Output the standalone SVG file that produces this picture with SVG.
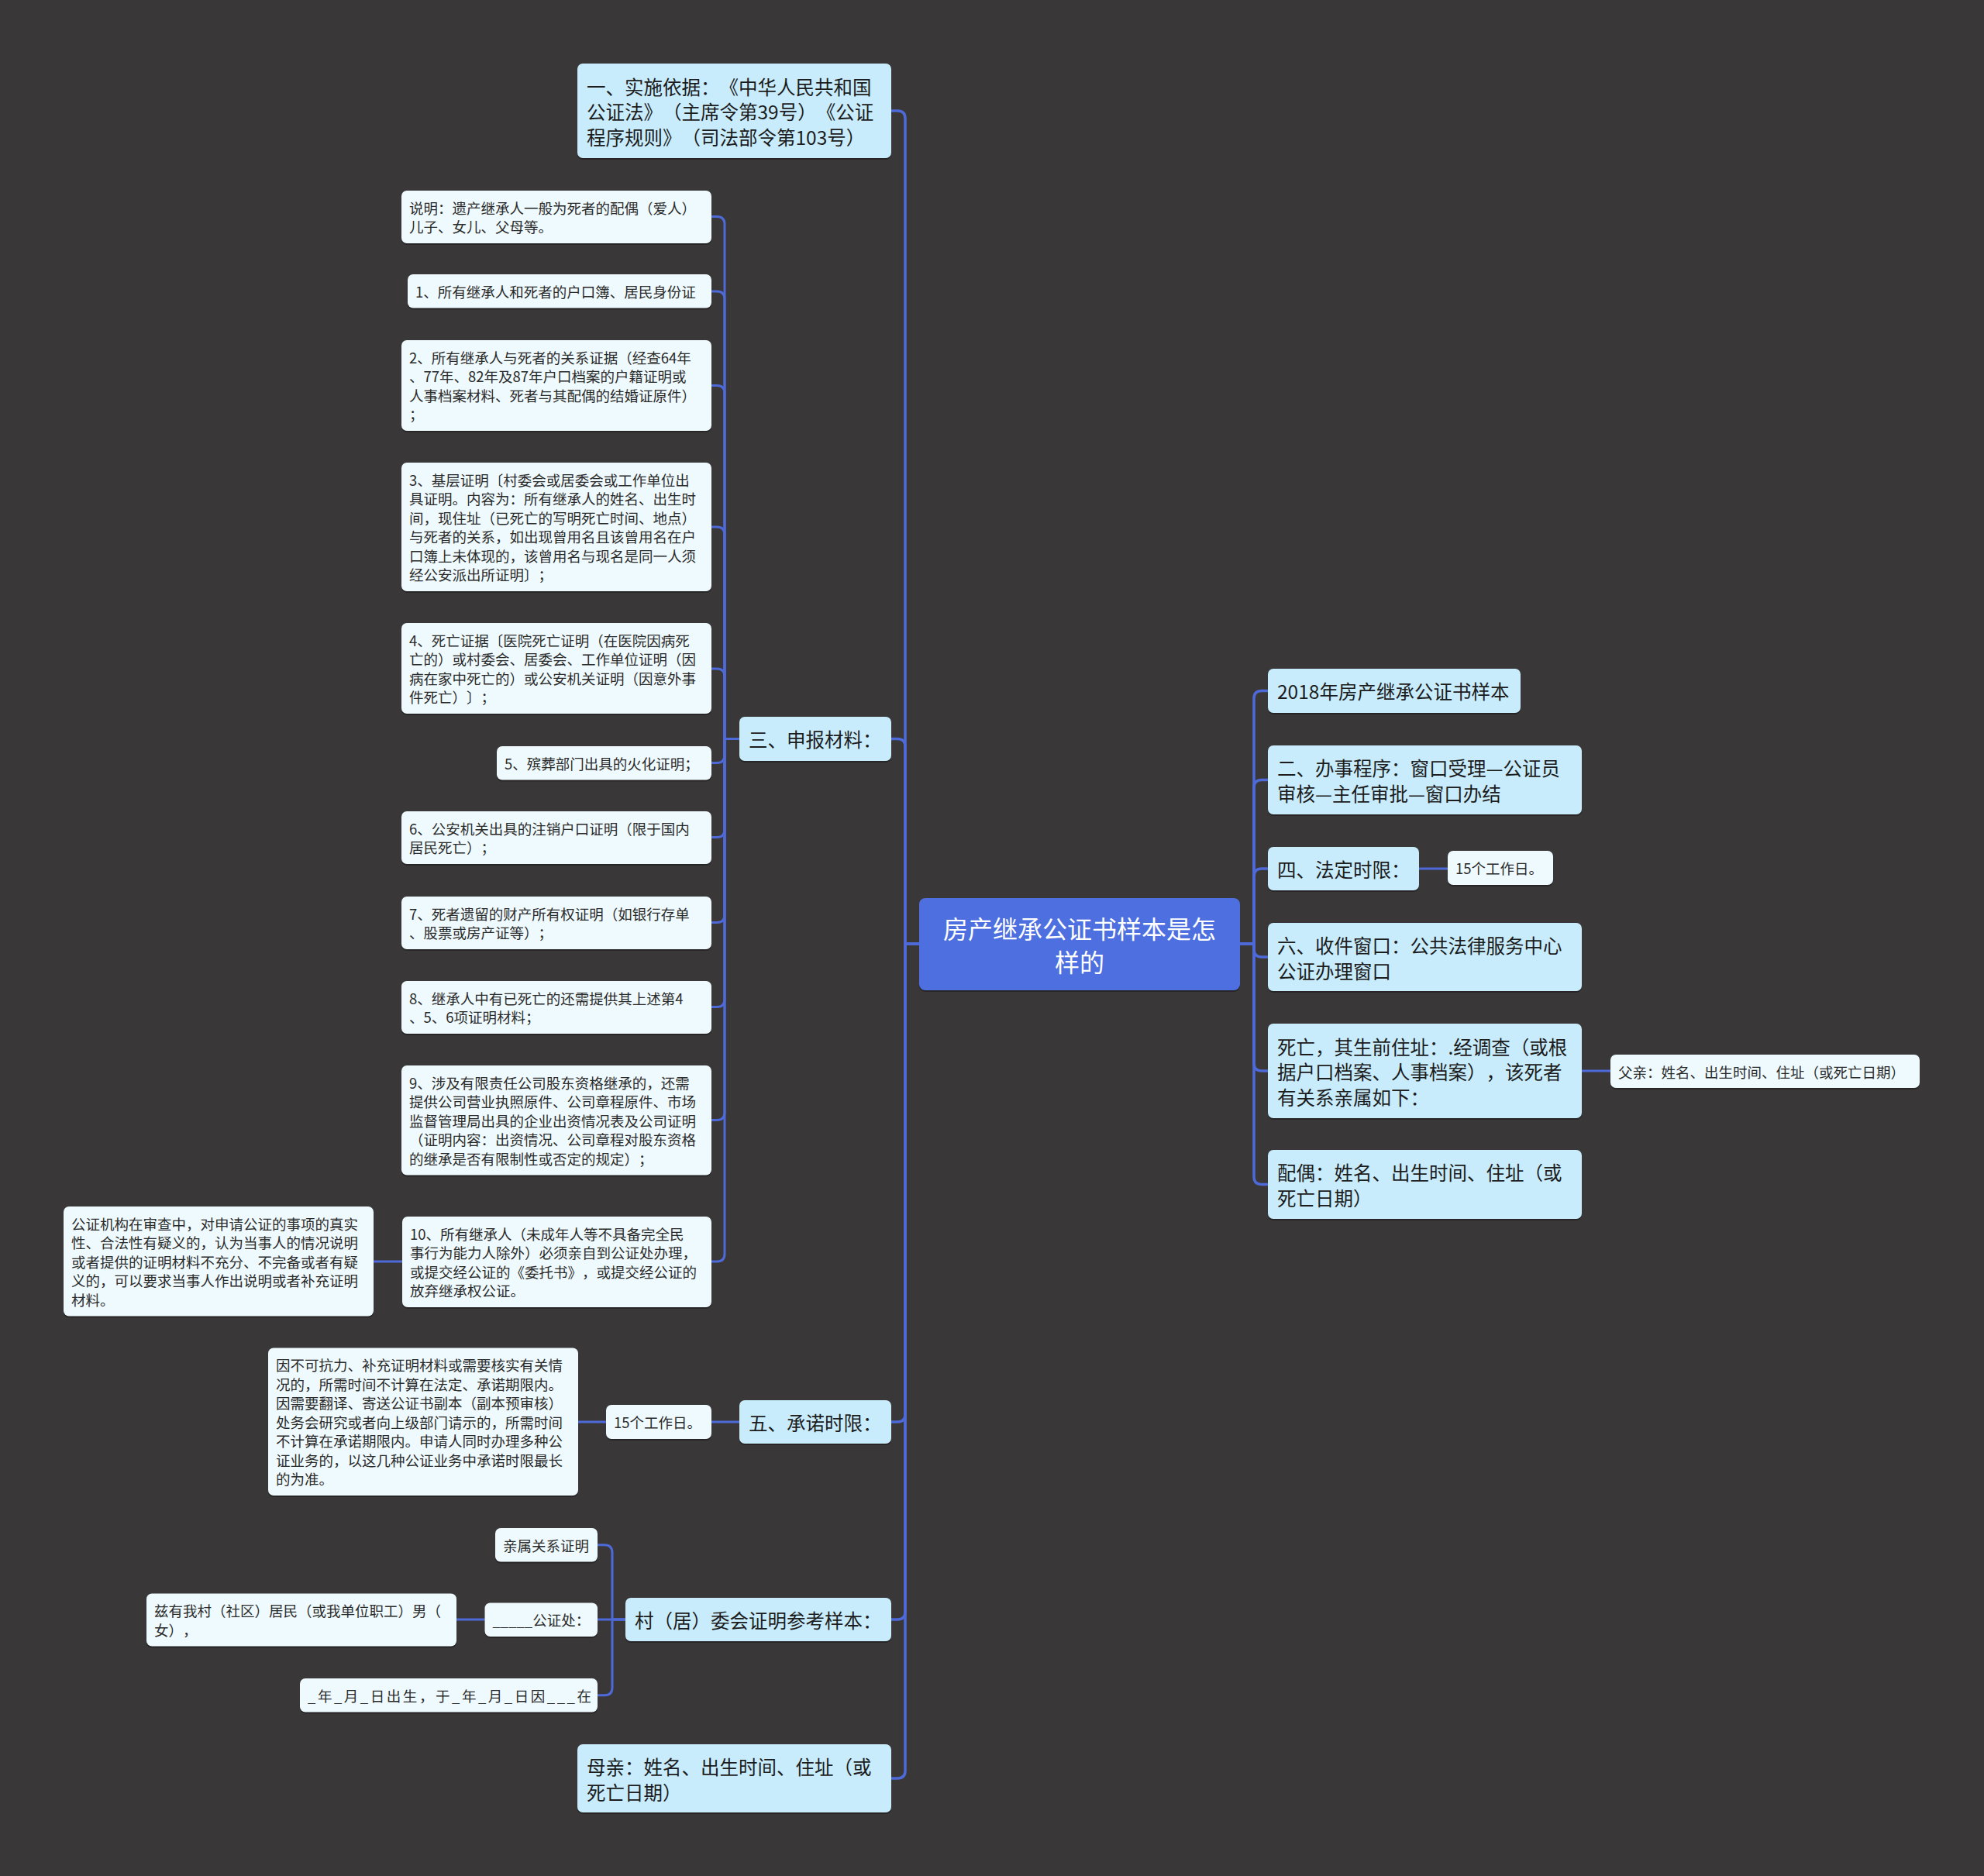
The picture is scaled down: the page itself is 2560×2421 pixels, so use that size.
<svg xmlns="http://www.w3.org/2000/svg" width="2560" height="2421" viewBox="0 0 2560 2421">
<style>
text, tspan { font-family: "Noto Sans CJK SC", "Noto Sans", sans-serif; dominant-baseline: central; text-spacing-trim: space-all; }
.bg { fill: #393738; }
.sh { fill: #1f1e1f; opacity: 0.7; }
.root { fill: #4d6fe0; }
.l1 { fill: #c8ecfc; }
.l2 { fill: #effafe; }
.tr { font-size: 32px; fill: #ffffff; text-anchor: middle; }
.t1 { font-size: 24.5px; fill: #1c1c1c; }
.t2 { font-size: 18.5px; fill: #2a2a2a; }
.edge { fill: none; stroke: #4e69d8; stroke-width: 3; stroke-linecap: round; stroke-linejoin: round; }
.edge.main { stroke-width: 3.5; }
</style>
<rect class="bg" x="0" y="0" width="2560" height="2421"/>

<g id="connectors">
  <path class="edge main" d="M1186 1218 H1168 V153 Q1168 143 1158 143 H1150"/>
  <path class="edge main" d="M1186 1218 H1168 V963.5 Q1168 953.5 1158 953.5 H1150"/>
  <path class="edge main" d="M1186 1218 H1168 V1825 Q1168 1835 1158 1835 H1150"/>
  <path class="edge main" d="M1186 1218 H1168 V2080 Q1168 2090 1158 2090 H1150"/>
  <path class="edge main" d="M1186 1218 H1168 V2285 Q1168 2295 1158 2295 H1150"/>
  <path class="edge main" d="M1600 1218 H1618 V901.5 Q1618 891.5 1628 891.5 H1636"/>
  <path class="edge main" d="M1600 1218 H1618 V1016.5 Q1618 1006.5 1628 1006.5 H1636"/>
  <path class="edge main" d="M1600 1218 H1618 V1131 Q1618 1121 1628 1121 H1636"/>
  <path class="edge main" d="M1600 1218 H1618 V1225 Q1618 1235 1628 1235 H1636"/>
  <path class="edge main" d="M1600 1218 H1618 V1372 Q1618 1382 1628 1382 H1636"/>
  <path class="edge main" d="M1600 1218 H1618 V1518.5 Q1618 1528.5 1628 1528.5 H1636"/>
  <path class="edge" d="M954 953.5 H935 V289.5 Q935 279.5 925 279.5 H918"/>
  <path class="edge" d="M954 953.5 H935 V386 Q935 376 925 376 H918"/>
  <path class="edge" d="M954 953.5 H935 V507.5 Q935 497.5 925 497.5 H918"/>
  <path class="edge" d="M954 953.5 H935 V690 Q935 680 925 680 H918"/>
  <path class="edge" d="M954 953.5 H935 V873 Q935 863 925 863 H918"/>
  <path class="edge" d="M954 953.5 H935 V974.5 Q935 984.5 925 984.5 H918"/>
  <path class="edge" d="M954 953.5 H935 V1070.5 Q935 1080.5 925 1080.5 H918"/>
  <path class="edge" d="M954 953.5 H935 V1180.5 Q935 1190.5 925 1190.5 H918"/>
  <path class="edge" d="M954 953.5 H935 V1289.5 Q935 1299.5 925 1299.5 H918"/>
  <path class="edge" d="M954 953.5 H935 V1435.5 Q935 1445.5 925 1445.5 H918"/>
  <path class="edge" d="M954 953.5 H935 V1618 Q935 1628 925 1628 H918"/>
  <path class="edge" d="M519 1628 H482"/>
  <path class="edge" d="M954 1835 H918"/>
  <path class="edge" d="M782 1835 H746"/>
  <path class="edge" d="M807 2090 H790 V2003.7 Q790 1993.7 780 1993.7 H771"/>
  <path class="edge" d="M807 2090 H771"/>
  <path class="edge" d="M807 2090 H790 V2177.7 Q790 2187.7 780 2187.7 H771"/>
  <path class="edge" d="M625.5 2090 H589"/>
  <path class="edge" d="M1831 1121 H1868"/>
  <path class="edge" d="M2041 1382 H2078"/>
</g>

<g id="root">
  <rect class="sh" x="1186" y="1161" width="414" height="119" rx="8"/>
  <rect class="root" x="1186" y="1159" width="414" height="119" rx="8"/>
  <text class="tr"><tspan x="1393" y="1197">房产继承公证书样本是怎</tspan><tspan x="1393" y="1240">样的</tspan></text>
</g>

<g id="n-yi">
  <rect class="sh" x="745" y="84" width="405" height="122" rx="7"/>
  <rect class="l1" x="745" y="82" width="405" height="122" rx="7"/>
  <text class="t1"><tspan x="757" y="110.5">一、实施依据：《中华人民共和国</tspan><tspan x="757" y="143">公证法》（主席令第39号）《公证</tspan><tspan x="757" y="175.5">程序规则》（司法部令第103号）</tspan></text>
</g>

<g id="n-san">
  <rect class="sh" x="954" y="927" width="196" height="57" rx="7"/>
  <rect class="l1" x="954" y="925" width="196" height="57" rx="7"/>
  <text class="t1" x="966" y="953.5">三、申报材料：</text>
</g>

<g id="n-wu">
  <rect class="sh" x="954" y="1809" width="196" height="56" rx="7"/>
  <rect class="l1" x="954" y="1807" width="196" height="56" rx="7"/>
  <text class="t1" x="966" y="1835">五、承诺时限：</text>
</g>

<g id="n-cun">
  <rect class="sh" x="807" y="2064" width="343" height="56" rx="7"/>
  <rect class="l1" x="807" y="2062" width="343" height="56" rx="7"/>
  <text class="t1" x="819" y="2090">村（居）委会证明参考样本：</text>
</g>

<g id="n-muqin">
  <rect class="sh" x="745" y="2253" width="405" height="88" rx="7"/>
  <rect class="l1" x="745" y="2251" width="405" height="88" rx="7"/>
  <text class="t1"><tspan x="757" y="2279">母亲：姓名、出生时间、住址（或</tspan><tspan x="757" y="2311.5">死亡日期）</tspan></text>
</g>

<g id="n-2018">
  <rect class="sh" x="1636" y="865" width="326" height="57" rx="7"/>
  <rect class="l1" x="1636" y="863" width="326" height="57" rx="7"/>
  <text class="t1" x="1648" y="891.5">2018年房产继承公证书样本</text>
</g>

<g id="n-er">
  <rect class="sh" x="1636" y="964" width="405" height="89" rx="7"/>
  <rect class="l1" x="1636" y="962" width="405" height="89" rx="7"/>
  <text class="t1"><tspan x="1648" y="990.25">二、办事程序：窗口受理—公证员</tspan><tspan x="1648" y="1022.75">审核—主任审批—窗口办结</tspan></text>
</g>

<g id="n-si">
  <rect class="sh" x="1636" y="1095" width="195" height="56" rx="7"/>
  <rect class="l1" x="1636" y="1093" width="195" height="56" rx="7"/>
  <text class="t1" x="1648" y="1121">四、法定时限：</text>
</g>

<g id="n-si-15">
  <rect class="sh" x="1868" y="1100" width="136" height="44" rx="7"/>
  <rect class="l2" x="1868" y="1098" width="136" height="44" rx="7"/>
  <text class="t2" x="1878" y="1120">15个工作日。</text>
</g>

<g id="n-liu">
  <rect class="sh" x="1636" y="1193" width="405" height="88" rx="7"/>
  <rect class="l1" x="1636" y="1191" width="405" height="88" rx="7"/>
  <text class="t1"><tspan x="1648" y="1219">六、收件窗口：公共法律服务中心</tspan><tspan x="1648" y="1251.5">公证办理窗口</tspan></text>
</g>

<g id="n-siwang">
  <rect class="sh" x="1636" y="1323" width="405" height="122" rx="7"/>
  <rect class="l1" x="1636" y="1321" width="405" height="122" rx="7"/>
  <text class="t1"><tspan x="1648" y="1349.5">死亡，其生前住址：.经调查（或根</tspan><tspan x="1648" y="1382">据户口档案、人事档案），该死者</tspan><tspan x="1648" y="1414.5">有关系亲属如下：</tspan></text>
</g>

<g id="n-fuqin">
  <rect class="sh" x="2078" y="1363" width="399" height="43" rx="7"/>
  <rect class="l2" x="2078" y="1361" width="399" height="43" rx="7"/>
  <text class="t2" x="2088" y="1382.5">父亲：姓名、出生时间、住址（或死亡日期）</text>
</g>

<g id="n-peiou">
  <rect class="sh" x="1636" y="1486" width="405" height="89" rx="7"/>
  <rect class="l1" x="1636" y="1484" width="405" height="89" rx="7"/>
  <text class="t1"><tspan x="1648" y="1512.25">配偶：姓名、出生时间、住址（或</tspan><tspan x="1648" y="1544.75">死亡日期）</tspan></text>
</g>

<g id="s0">
  <rect class="sh" x="518" y="248" width="400" height="68" rx="7"/>
  <rect class="l2" x="518" y="246" width="400" height="68" rx="7"/>
  <text class="t2"><tspan x="528" y="267.75">说明：遗产继承人一般为死者的配偶（爱人）</tspan><tspan x="528" y="292.25">儿子、女儿、父母等。</tspan></text>
</g>

<g id="s1">
  <rect class="sh" x="526" y="356" width="392" height="43.5" rx="7"/>
  <rect class="l2" x="526" y="354" width="392" height="43.5" rx="7"/>
  <text class="t2" x="536" y="375.75">1、所有继承人和死者的户口簿、居民身份证</text>
</g>

<g id="s2">
  <rect class="sh" x="518" y="441" width="400" height="117" rx="7"/>
  <rect class="l2" x="518" y="439" width="400" height="117" rx="7"/>
  <text class="t2"><tspan x="528" y="460.75">2、所有继承人与死者的关系证据（经查64年</tspan><tspan x="528" y="485.25">、77年、82年及87年户口档案的户籍证明或</tspan><tspan x="528" y="509.75">人事档案材料、死者与其配偶的结婚证原件）</tspan><tspan x="528" y="534.25">；</tspan></text>
</g>

<g id="s3">
  <rect class="sh" x="518" y="599" width="400" height="166" rx="7"/>
  <rect class="l2" x="518" y="597" width="400" height="166" rx="7"/>
  <text class="t2"><tspan x="528" y="618.75">3、基层证明〔村委会或居委会或工作单位出</tspan><tspan x="528" y="643.25">具证明。内容为：所有继承人的姓名、出生时</tspan><tspan x="528" y="667.75">间，现住址（已死亡的写明死亡时间、地点）</tspan><tspan x="528" y="692.25">与死者的关系，如出现曾用名且该曾用名在户</tspan><tspan x="528" y="716.75">口簿上未体现的，该曾用名与现名是同一人须</tspan><tspan x="528" y="741.25">经公安派出所证明〕；</tspan></text>
</g>

<g id="s4">
  <rect class="sh" x="518" y="806" width="400" height="117" rx="7"/>
  <rect class="l2" x="518" y="804" width="400" height="117" rx="7"/>
  <text class="t2"><tspan x="528" y="825.75">4、死亡证据〔医院死亡证明（在医院因病死</tspan><tspan x="528" y="850.25">亡的）或村委会、居委会、工作单位证明（因</tspan><tspan x="528" y="874.75">病在家中死亡的）或公安机关证明（因意外事</tspan><tspan x="528" y="899.25">件死亡）〕；</tspan></text>
</g>

<g id="s5">
  <rect class="sh" x="641" y="965" width="277" height="43.5" rx="7"/>
  <rect class="l2" x="641" y="963" width="277" height="43.5" rx="7"/>
  <text class="t2" x="651" y="984.75">5、殡葬部门出具的火化证明；</text>
</g>

<g id="s6">
  <rect class="sh" x="518" y="1049" width="400" height="68" rx="7"/>
  <rect class="l2" x="518" y="1047" width="400" height="68" rx="7"/>
  <text class="t2"><tspan x="528" y="1068.75">6、公安机关出具的注销户口证明（限于国内</tspan><tspan x="528" y="1093.25">居民死亡）；</tspan></text>
</g>

<g id="s7">
  <rect class="sh" x="518" y="1159" width="400" height="68" rx="7"/>
  <rect class="l2" x="518" y="1157" width="400" height="68" rx="7"/>
  <text class="t2"><tspan x="528" y="1178.75">7、死者遗留的财产所有权证明（如银行存单</tspan><tspan x="528" y="1203.25">、股票或房产证等）；</tspan></text>
</g>

<g id="s8">
  <rect class="sh" x="518" y="1268" width="400" height="68" rx="7"/>
  <rect class="l2" x="518" y="1266" width="400" height="68" rx="7"/>
  <text class="t2"><tspan x="528" y="1287.75">8、继承人中有已死亡的还需提供其上述第4</tspan><tspan x="528" y="1312.25">、5、6项证明材料；</tspan></text>
</g>

<g id="s9">
  <rect class="sh" x="518" y="1377" width="400" height="141.5" rx="7"/>
  <rect class="l2" x="518" y="1375" width="400" height="141.5" rx="7"/>
  <text class="t2"><tspan x="528" y="1396.75">9、涉及有限责任公司股东资格继承的，还需</tspan><tspan x="528" y="1421.25">提供公司营业执照原件、公司章程原件、市场</tspan><tspan x="528" y="1445.75">监督管理局出具的企业出资情况表及公司证明</tspan><tspan x="528" y="1470.25">（证明内容：出资情况、公司章程对股东资格</tspan><tspan x="528" y="1494.75">的继承是否有限制性或否定的规定）；</tspan></text>
</g>

<g id="s10">
  <rect class="sh" x="519" y="1572" width="399" height="117" rx="7"/>
  <rect class="l2" x="519" y="1570" width="399" height="117" rx="7"/>
  <text class="t2"><tspan x="529" y="1591.75">10、所有继承人（未成年人等不具备完全民</tspan><tspan x="529" y="1616.25">事行为能力人除外）必须亲自到公证处办理，</tspan><tspan x="529" y="1640.75">或提交经公证的《委托书》，或提交经公证的</tspan><tspan x="529" y="1665.25">放弃继承权公证。</tspan></text>
</g>

<g id="s10-note">
  <rect class="sh" x="82" y="1559" width="400" height="141.5" rx="7"/>
  <rect class="l2" x="82" y="1557" width="400" height="141.5" rx="7"/>
  <text class="t2"><tspan x="92" y="1578.75">公证机构在审查中，对申请公证的事项的真实</tspan><tspan x="92" y="1603.25">性、合法性有疑义的，认为当事人的情况说明</tspan><tspan x="92" y="1627.75">或者提供的证明材料不充分、不完备或者有疑</tspan><tspan x="92" y="1652.25">义的，可以要求当事人作出说明或者补充证明</tspan><tspan x="92" y="1676.75">材料。</tspan></text>
</g>

<g id="n-wu-15">
  <rect class="sh" x="782" y="1815" width="136" height="44" rx="7"/>
  <rect class="l2" x="782" y="1813" width="136" height="44" rx="7"/>
  <text class="t2" x="792" y="1835">15个工作日。</text>
</g>

<g id="n-wu-note">
  <rect class="sh" x="346" y="1741.5" width="400" height="190.5" rx="7"/>
  <rect class="l2" x="346" y="1739.5" width="400" height="190.5" rx="7"/>
  <text class="t2"><tspan x="356" y="1761.25">因不可抗力、补充证明材料或需要核实有关情</tspan><tspan x="356" y="1785.75">况的，所需时间不计算在法定、承诺期限内。</tspan><tspan x="356" y="1810.25">因需要翻译、寄送公证书副本（副本预审核）</tspan><tspan x="356" y="1834.75">处务会研究或者向上级部门请示的，所需时间</tspan><tspan x="356" y="1859.25">不计算在承诺期限内。申请人同时办理多种公</tspan><tspan x="356" y="1883.75">证业务的，以这几种公证业务中承诺时限最长</tspan><tspan x="356" y="1908.25">的为准。</tspan></text>
</g>

<g id="v1">
  <rect class="sh" x="639" y="1974" width="132" height="43.5" rx="7"/>
  <rect class="l2" x="639" y="1972" width="132" height="43.5" rx="7"/>
  <text class="t2" x="649" y="1993.75">亲属关系证明</text>
</g>

<g id="v2">
  <rect class="sh" x="625.5" y="2070.5" width="145.5" height="43.5" rx="7"/>
  <rect class="l2" x="625.5" y="2068.5" width="145.5" height="43.5" rx="7"/>
  <text class="t2" x="635.5" y="2090.25">_____公证处：</text>
</g>

<g id="v2-note">
  <rect class="sh" x="189" y="2058.5" width="400" height="68" rx="7"/>
  <rect class="l2" x="189" y="2056.5" width="400" height="68" rx="7"/>
  <text class="t2"><tspan x="199" y="2078.25">兹有我村（社区）居民（或我单位职工）男（</tspan><tspan x="199" y="2102.75">女），</tspan></text>
</g>

<g id="v3">
  <rect class="sh" x="387" y="2168" width="384" height="43.5" rx="7"/>
  <rect class="l2" x="387" y="2166" width="384" height="43.5" rx="7"/>
  <text class="t2" x="397" y="2187.75" textLength="366" lengthAdjust="spacing">_年_月_日出生，于_年_月_日因___在</text>
</g>
</svg>
